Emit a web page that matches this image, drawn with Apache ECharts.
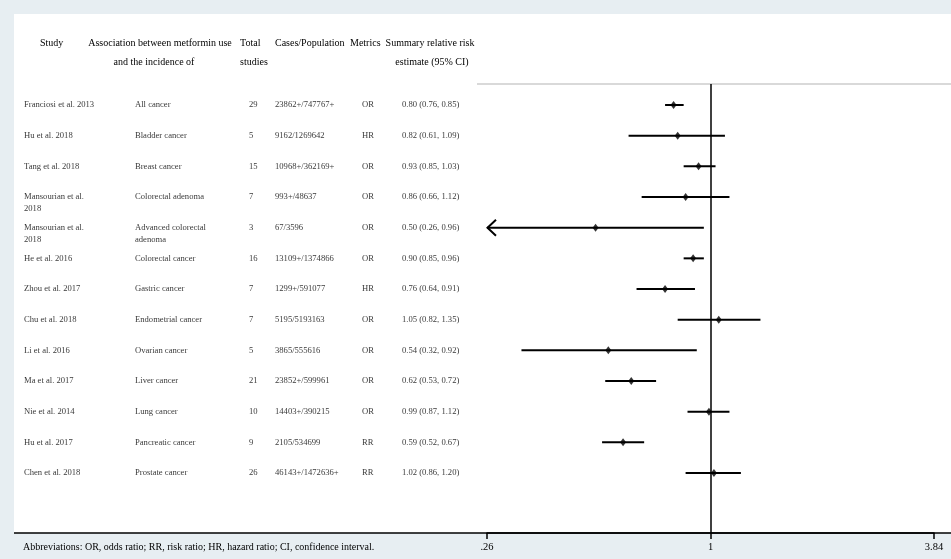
<!DOCTYPE html>
<html><head><meta charset="utf-8">
<script src="https://cdn.jsdelivr.net/npm/echarts@6/dist/echarts.min.js"></script>
<style>html,body{margin:0;padding:0;background:#e7eef2;} #c{width:951px;height:559px;}</style>
</head><body><div id="c"></div>
<script>
const studies = ["Franciosi et al. 2013","Hu et al. 2018","Tang et al. 2018","Mansourian et al.\n2018","Mansourian et al.\n2018","He et al. 2016","Zhou et al. 2017","Chu et al. 2018","Li et al. 2016","Ma et al. 2017","Nie et al. 2014","Hu et al. 2017","Chen et al. 2018"];
const outcomes = ["All cancer","Bladder cancer","Breast cancer","Colorectal adenoma","Advanced colorectal\nadenoma","Colorectal cancer","Gastric cancer","Endometrial cancer","Ovarian cancer","Liver cancer","Lung cancer","Pancreatic cancer","Prostate cancer"];
const totalStudies = [29,5,15,7,3,16,7,7,5,21,10,9,26];
const casesPopulation = ["23862+/747767+","9162/1269642","10968+/362169+","993+/48637","67/3596","13109+/1374866","1299+/591077","5195/5193163","3865/555616","23852+/599961","14403+/390215","2105/534699","46143+/1472636+"];
const metrics = ["OR","HR","OR","OR","OR","OR","HR","OR","OR","OR","OR","RR","RR"];
const rr = [0.80,0.82,0.93,0.86,0.50,0.90,0.76,1.05,0.54,0.62,0.99,0.59,1.02];
const ciLow = [0.76,0.61,0.85,0.66,0.26,0.85,0.64,0.82,0.32,0.53,0.87,0.52,0.86];
const ciHigh = [0.85,1.09,1.03,1.12,0.96,0.96,0.91,1.35,0.92,0.72,1.12,0.67,1.20];
const xTicks = [0.26, 1, 3.84];
const xMin = 0.26, xMax = 3.84;

const FONT = 'Liberation Serif';
const summary = rr.map((v,i)=>v.toFixed(2)+' ('+ciLow[i].toFixed(2)+', '+ciHigh[i].toFixed(2)+')');
const rows = rr.map((v,i)=>i);
const yMin = -0.6847, yMax = 13.955;

function textCol(xPos, texts){
  return {
    type:'scatter', xAxisIndex:1, yAxisIndex:1, symbolSize:0, silent:true,
    data: texts.map((t,i)=>[xPos, i, String(t)]),
    label:{show:true, position:'right', distance:0, formatter:p=>p.data[2],
      color:'#000', fontFamily:FONT, fontSize:8.6, lineHeight:12, verticalAlign:'top', offset:[0,-6]}
  };
}
function hdr(x, y, t, align){
  return {type:'text', x:x, y:y, style:{text:t, fill:'#000', font:'10px "'+FONT+'"', textAlign:align||'left', textVerticalAlign:'middle'}};
}

const chart = echarts.init(document.getElementById('c'), null, {renderer:'canvas'});
chart.setOption({
  backgroundColor:'#e7eef2',
  animation:false,
  grid:[
    {left:487, right:17, top:84, bottom:26},
    {left:0, right:0, top:84, bottom:26}
  ],
  xAxis:[
    {type:'log', gridIndex:0, min:xMin, max:xMax, logBase:10, position:'bottom',
     splitLine:{show:false},
     axisLine:{show:true, onZero:false, lineStyle:{color:'#000', width:1.5}},
     axisTick:{show:true, customValues:xTicks, length:6, lineStyle:{color:'#000', width:1.5}},
     axisLabel:{show:true, customValues:xTicks, margin:9, color:'#000', fontFamily:FONT, fontSize:10.5,
       formatter:v=>{const s=String(+(+v).toFixed(2)); return v<1? s.replace(/^0/,''):s;}}},
    {type:'value', gridIndex:1, min:0, max:951, show:false}
  ],
  yAxis:[
    {type:'value', gridIndex:0, min:yMin, max:yMax, inverse:true, show:false},
    {type:'value', gridIndex:1, min:yMin, max:yMax, inverse:true, show:false}
  ],
  graphic:[
    {type:'rect', z:-5, shape:{x:14, y:14, width:937, height:519}, style:{fill:'#fff'}},
    {type:'line', z:1, shape:{x1:477, y1:84, x2:951, y2:84}, style:{stroke:'#cccccc', lineWidth:1.5}},
    {type:'line', z:1, shape:{x1:14, y1:533, x2:951, y2:533}, style:{stroke:'#000', lineWidth:1.5}},
    hdr(40,43,'Study'),
    hdr(160,43,'Association between metformin use','center'),
    hdr(154,62,'and the incidence of','center'),
    hdr(240,43,'Total'),
    hdr(240,62,'studies'),
    hdr(275,43,'Cases/Population'),
    hdr(350,43,'Metrics'),
    hdr(430,43,'Summary relative risk','center'),
    hdr(432,62,'estimate (95% CI)','center'),
    hdr(23,547,'Abbreviations: OR, odds ratio; RR, risk ratio; HR, hazard ratio; CI, confidence interval.')
  ],
  series:[
    {
      type:'custom', xAxisIndex:0, yAxisIndex:0, silent:true,
      data: rows.map(i=>[ciLow[i], ciHigh[i], i]),
      encode:{x:[0,1], y:2},
      renderItem:(params, api)=>{
        const lo = api.value(0), hi = api.value(1), row = api.value(2);
        const p1 = api.coord([lo,row]), p2 = api.coord([hi,row]);
        const children = [{type:'line', shape:{x1:p1[0],y1:p1[1],x2:p2[0],y2:p2[1]}, style:{stroke:'#000', lineWidth:2}}];
        if (lo <= xMin) {
          children.push({type:'polyline', shape:{points:[[p1[0]+9,p1[1]-8],[p1[0]+0.5,p1[1]],[p1[0]+9,p1[1]+8]]}, style:{stroke:'#000', lineWidth:2, fill:null}});
        }
        return {type:'group', children};
      }
    },
    {
      type:'scatter', xAxisIndex:0, yAxisIndex:0, silent:true,
      symbol:'diamond', symbolSize:[6,8], itemStyle:{color:'#000'},
      data: rows.map(i=>[rr[i], i]),
      markLine:{silent:true, symbol:'none', label:{show:false},
        lineStyle:{color:'#000', width:1.5, type:'solid'},
        data:[{xAxis:1}]}
    },
    textCol(24, studies),
    textCol(135, outcomes),
    textCol(249, totalStudies),
    textCol(275, casesPopulation),
    textCol(362, metrics),
    textCol(402, summary)
  ]
});
</script></body></html>
